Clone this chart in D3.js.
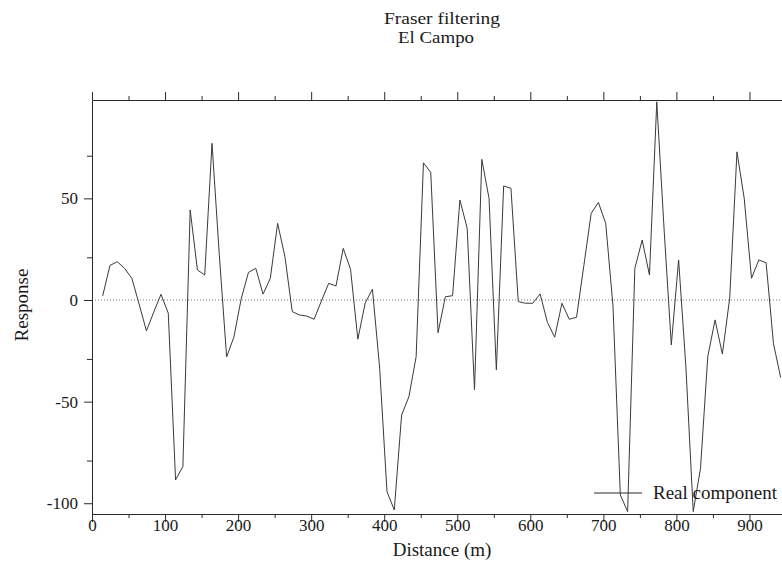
<!DOCTYPE html>
<html>
<head>
<meta charset="utf-8">
<script src="https://cdn.jsdelivr.net/npm/d3@7"></script>
<style>
  html, body { margin: 0; padding: 0; background: #fff; }
  svg { display: block; }
  text { font-family: "Liberation Serif", "Times New Roman", serif; fill: #1a1a1a; }
</style>
</head>
<body>
<svg id="chart"></svg>
<script>
// ── Data ──────────────────────────────────────────────
const distance = [
  14.6, 24.6, 34.6, 44.5, 54.5, 64.5, 74.5, 84.5, 94.4, 104.4,
  114.4, 124.4, 134.4, 144.3, 154.3, 164.3, 174.3, 184.3, 194.2, 204.2,
  214.2, 224.2, 234.2, 244.1, 254.1, 264.1, 274.1, 284.1, 294.0, 304.0,
  314.0, 324.0, 334.0, 343.9, 353.9, 363.9, 373.9, 383.9, 393.8, 403.8,
  413.8, 423.8, 433.8, 443.7, 453.7, 463.7, 473.7, 483.7, 493.6, 503.6,
  513.6, 523.6, 533.6, 543.5, 553.5, 563.5, 573.5, 583.5, 593.4, 603.4,
  613.4, 623.4, 633.4, 643.3, 653.3, 663.3, 673.3, 683.3, 693.2, 703.2,
  713.2, 723.2, 733.2, 743.1, 753.1, 763.1, 773.1, 783.1, 793.0, 803.0,
  813.0, 823.0, 833.0, 842.9, 852.9, 862.9, 872.9, 882.9, 892.8, 902.8,
  912.8, 922.8, 932.8, 942.7
];
const realComponent = [
  2, 17, 18.8, 15.6, 10.7, -2, -15.2, -6, 2.8, -6.5,
  -88.5, -82, 44.3, 14.8, 12.3, 77.1, 22, -28, -18.3, 0.5,
  13.6, 15.6, 2.9, 10.7, 37.7, 21.3, -5.7, -7.4, -7.9, -9.5,
  -0.5, 8.2, 6.9, 25.4, 15.1, -19.3, -1.6, 5.3, -33.6, -94.3,
  -103.3, -56.6, -47.6, -27.9, 67.5, 62.8, -16.1, 1.6, 2.1, 49.2,
  35.3, -44.3, 69.2, 50, -34.4, 56.1, 54.9, -0.8, -1.6, -1.6,
  3, -11, -18.3, -1.6, -9.5, -8.5, 17, 42.6, 48, 37.7,
  -3, -95.9, -104.1, 15.6, 29.5, 12.3, 97.5, 35, -22.1, 19.7,
  -33, -104.1, -82.8, -27.9, -9.8, -26.6, 0.8, 72.9, 50, 10.7,
  19.7, 18.3, -21.3, -38.2
];

const xMajor = [0, 100, 200, 300, 400, 500, 600, 700, 800, 900];
const xMinor = [50, 150, 250, 350, 450, 550, 650, 750, 850, 950];
const yMajor = [50, 0, -50, -100];
const yMinor = [71, 21, -29, -79];

const titleLines  = ['Fraser filtering', 'El Campo'];
const xTitle      = 'Distance (m)';
const yTitle      = 'Response';
const seriesLabel = 'Real component';

// ── Layout ────────────────────────────────────────────
const W = 782, H = 564;
const plot = { left: 92, right: 786, top: 100, bottom: 514 };
const INK = '#2b2b2b';

const svg = d3.select('#chart').attr('width', W).attr('height', H);
svg.append('rect').attr('width', W).attr('height', H).attr('fill', '#fff');

const x = d3.scaleLinear().domain([0, 950]).range([plot.left, plot.right]);
const y = d3.scaleLinear().domain([-105.3, 98.4]).range([plot.bottom, plot.top]);

// ── Titles (reference type is a little wide, so stretch to its width) ──
svg.append('text')
  .attr('x', 384).attr('y', 23.5)
  .attr('font-size', 17)
  .attr('textLength', 116)
  .attr('lengthAdjust', 'spacingAndGlyphs')
  .text(titleLines[0]);
svg.append('text')
  .attr('x', 398).attr('y', 42.5)
  .attr('font-size', 17)
  .attr('textLength', 76)
  .attr('lengthAdjust', 'spacingAndGlyphs')
  .text(titleLines[1]);

// ── Zero reference line ───────────────────────────────
svg.append('line')
  .attr('x1', plot.left).attr('x2', plot.right)
  .attr('y1', y(0)).attr('y2', y(0))
  .attr('stroke', '#7a7a7a')
  .attr('stroke-width', 1)
  .attr('stroke-dasharray', '1 2');

// ── Axes ─────────────────────────────────────────────
function styleAxis(g) {
  g.select('.domain').attr('stroke', INK).attr('stroke-width', 1);
  g.selectAll('.tick line').attr('stroke', INK).attr('stroke-width', 1);
  g.selectAll('.tick text')
    .attr('fill', '#1a1a1a')
    .attr('font-family', '"Liberation Serif", "Times New Roman", serif')
    .attr('font-size', 17);
}

// bottom
const gBottom = svg.append('g').attr('transform', `translate(0,${plot.bottom})`)
  .call(d3.axisBottom(x).tickValues(xMajor).tickSize(8).tickSizeOuter(0)
    .tickFormat(d => String(d)))
  .call(styleAxis);
gBottom.selectAll('.tick text').attr('y', 17).attr('dy', 0);
svg.append('g').attr('transform', `translate(0,${plot.bottom})`)
  .call(d3.axisBottom(x).tickValues(xMinor).tickSize(4).tickSizeOuter(0).tickFormat(''))
  .call(styleAxis)
  .select('.domain').remove();

// top
svg.append('g').attr('transform', `translate(0,${plot.top})`)
  .call(d3.axisTop(x).tickValues(xMajor).tickSize(8).tickSizeOuter(0).tickFormat(''))
  .call(styleAxis);
svg.append('g').attr('transform', `translate(0,${plot.top})`)
  .call(d3.axisTop(x).tickValues(xMinor).tickSize(4).tickSizeOuter(0).tickFormat(''))
  .call(styleAxis)
  .select('.domain').remove();

// left
svg.append('g').attr('transform', `translate(${plot.left},0)`)
  .call(d3.axisLeft(y).tickValues(yMajor).tickSize(8).tickSizeOuter(0)
    .tickPadding(6).tickFormat(d => String(d)))
  .call(styleAxis);
svg.append('g').attr('transform', `translate(${plot.left},0)`)
  .call(d3.axisLeft(y).tickValues(yMinor).tickSize(5).tickSizeOuter(0).tickFormat(''))
  .call(styleAxis)
  .select('.domain').remove();

// axis titles
svg.append('text')
  .attr('x', 442).attr('y', 556)
  .attr('text-anchor', 'middle')
  .attr('font-size', 19)
  .text(xTitle);
svg.append('text')
  .attr('transform', `translate(28,305) rotate(-90)`)
  .attr('text-anchor', 'middle')
  .attr('font-size', 19)
  .text(yTitle);

// ── Series ───────────────────────────────────────────
const points = distance.map((d, i) => [d, realComponent[i]]);
const line = d3.line().x(d => x(d[0])).y(d => y(d[1]));

svg.append('path')
  .datum(points)
  .attr('d', line)
  .attr('fill', 'none')
  .attr('stroke', '#3a3a3a')
  .attr('stroke-width', 1)
  .attr('stroke-linejoin', 'miter');

// ── Legend ───────────────────────────────────────────
const legend = svg.append('g').attr('transform', 'translate(594,493)');
legend.append('line')
  .attr('x1', 0).attr('x2', 48)
  .attr('y1', 0).attr('y2', 0)
  .attr('stroke', INK).attr('stroke-width', 1);
legend.append('text')
  .attr('x', 59).attr('y', 6)
  .attr('font-size', 19)
  .text(seriesLabel);
</script>
</body>
</html>
